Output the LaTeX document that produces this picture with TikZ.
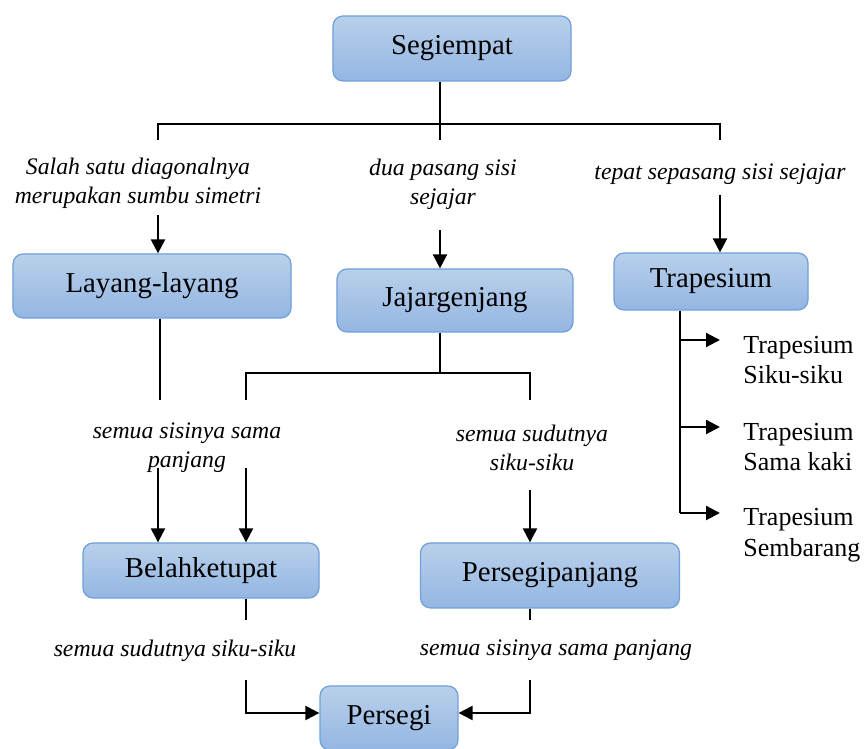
\documentclass[tikz,border=0pt]{standalone}
\usepackage{fontspec}
\setmainfont{Liberation Serif}
\usetikzlibrary{arrows.meta}

\definecolor{boxtop}{HTML}{B8D0EB}
\definecolor{boxbot}{HTML}{94B6E2}
\definecolor{boxline}{HTML}{6FA0DA}

\tikzset{
  box/.style={draw=boxline, line width=0.25mm, rounded corners=2mm,
    top color=boxtop, bottom color=boxbot, inner sep=0pt,
    font=\fontsize{16.4}{19}\selectfont},
  lbl/.style={align=center, inner sep=0pt, font=\fontsize{13.5}{16.4}\selectfont\itshape},
  side/.style={align=left, anchor=west, inner sep=0pt, font=\fontsize{14.8}{17.6}\selectfont},
  line/.style={black, line width=0.45mm},
  arr/.style={line, -{Triangle[length=2.8mm,width=2.8mm]}}
}

\begin{document}
\begin{tikzpicture}[x=0.2mm, y=-0.2mm]
  \clip (0,0) rectangle (865,749);

  %% boxes
  \node[box, minimum width=47.6mm, minimum height=13mm]   (seg) at (452,48.5)  {Segiempat};
  \node[box, minimum width=55.6mm, minimum height=12.8mm] (lay) at (152,286)   {Layang-layang};
  \node[box, minimum width=47.2mm, minimum height=12.6mm] (jaj) at (455,300.5) {Jajargenjang};
  \node[box, minimum width=38.8mm, minimum height=11.4mm] (tra) at (711,281.5) {Trapesium};
  \node[box, minimum width=47.2mm, minimum height=11mm]   (bel) at (201,570.5) {Belahketupat};
  \node[box, minimum width=51.8mm, minimum height=13mm]   (ppj) at (550,575.5) {Persegipanjang};
  \node[box, minimum width=27.6mm, minimum height=12.8mm] (per) at (389,718)   {Persegi};

  %% labels
  \node[lbl] (lsym)   at (138,183) {Salah satu diagonalnya\\merupakan sumbu simetri};
  \node[lbl] (ldua)   at (443,184) {dua pasang sisi\\sejajar};
  \node[lbl] (ltepat) at (720,174) {tepat sepasang sisi sejajar};
  \node[lbl] (lsisi)  at (187,448) {semua sisinya sama\\panjang};
  \node[lbl] (lsudut) at (532,448) {semua sudutnya\\siku-siku};
  \node[lbl] (lsudb)  at (175,651) {semua sudutnya siku-siku};
  \node[lbl] (lsisb)  at (556,650) {semua sisinya sama panjang};

  %% jenis trapesium
  \node[side] (t1) at (743,360) {Trapesium\\Siku-siku};
  \node[side] (t2) at (743,447) {Trapesium\\Sama kaki};
  \node[side] (t3) at (743,535) {Trapesium\\Sembarang};

  %% Segiempat
  \coordinate (sm) at (440,124);
  \coordinate (sl) at (158,124);
  \coordinate (sr) at (720,124);
  \draw[line] (seg.south -| sm) -- (sm);
  \draw[line] ([yshift=-3.2mm]sl) -- (sl) -- (sr) -- ([yshift=-3.2mm]sr);
  \draw[line] (sm) -- ([yshift=-3.2mm]sm);

  \coordinate (a1) at (158,215);
  \coordinate (a2) at (440,230);
  \coordinate (a3) at (720,195);
  \draw[arr] (a1) -- (lay.north -| a1);
  \draw[arr] (a2) -- (jaj.north -| a2);
  \draw[arr] (a3) -- (tra.north -| a3);

  %% Layang-layang
  \coordinate (lv) at (160,400);
  \draw[line] (lay.south -| lv) -- (lv);

  %% Jajargenjang
  \coordinate (jm) at (440,373);
  \coordinate (jl) at (246,373);
  \coordinate (jr) at (530,373);
  \draw[line] (jaj.south -| jm) -- (jm);
  \draw[line] ([yshift=-5.4mm]jl) -- (jl) -- (jr) -- ([yshift=-5.4mm]jr);

  \coordinate (b1) at (158,468);
  \coordinate (b2) at (246,468);
  \coordinate (p1) at (530,490);
  \draw[arr] (b1) -- (bel.north -| b1);
  \draw[arr] (b2) -- (bel.north -| b2);
  \draw[arr] (p1) -- (ppj.north -| p1);

  %% Persegi
  \coordinate (bv) at (246,620);
  \coordinate (bw) at (246,680);
  \coordinate (pv) at (530,620);
  \coordinate (pw) at (530,680);
  \draw[line] (bel.south -| bv) -- (bv);
  \draw[line] (ppj.south -| pv) -- (pv);
  \draw[arr] (bw) |- ([yshift=1mm]per.west);
  \draw[arr] (pw) |- ([yshift=1mm]per.east);

  %% Trapesium
  \coordinate (tv) at (680,513);
  \coordinate (s1) at (680,340);
  \coordinate (s2) at (680,427);
  \coordinate (s3) at (680,513);
  \draw[line] (tra.south -| tv) -- (tv);
  \draw[arr, shorten >=4.6mm] (s1) -- (s1 -| t1.west);
  \draw[arr, shorten >=4.6mm] (s2) -- (s2 -| t2.west);
  \draw[arr, shorten >=4.6mm] (s3) -- (s3 -| t3.west);
\end{tikzpicture}
\end{document}
